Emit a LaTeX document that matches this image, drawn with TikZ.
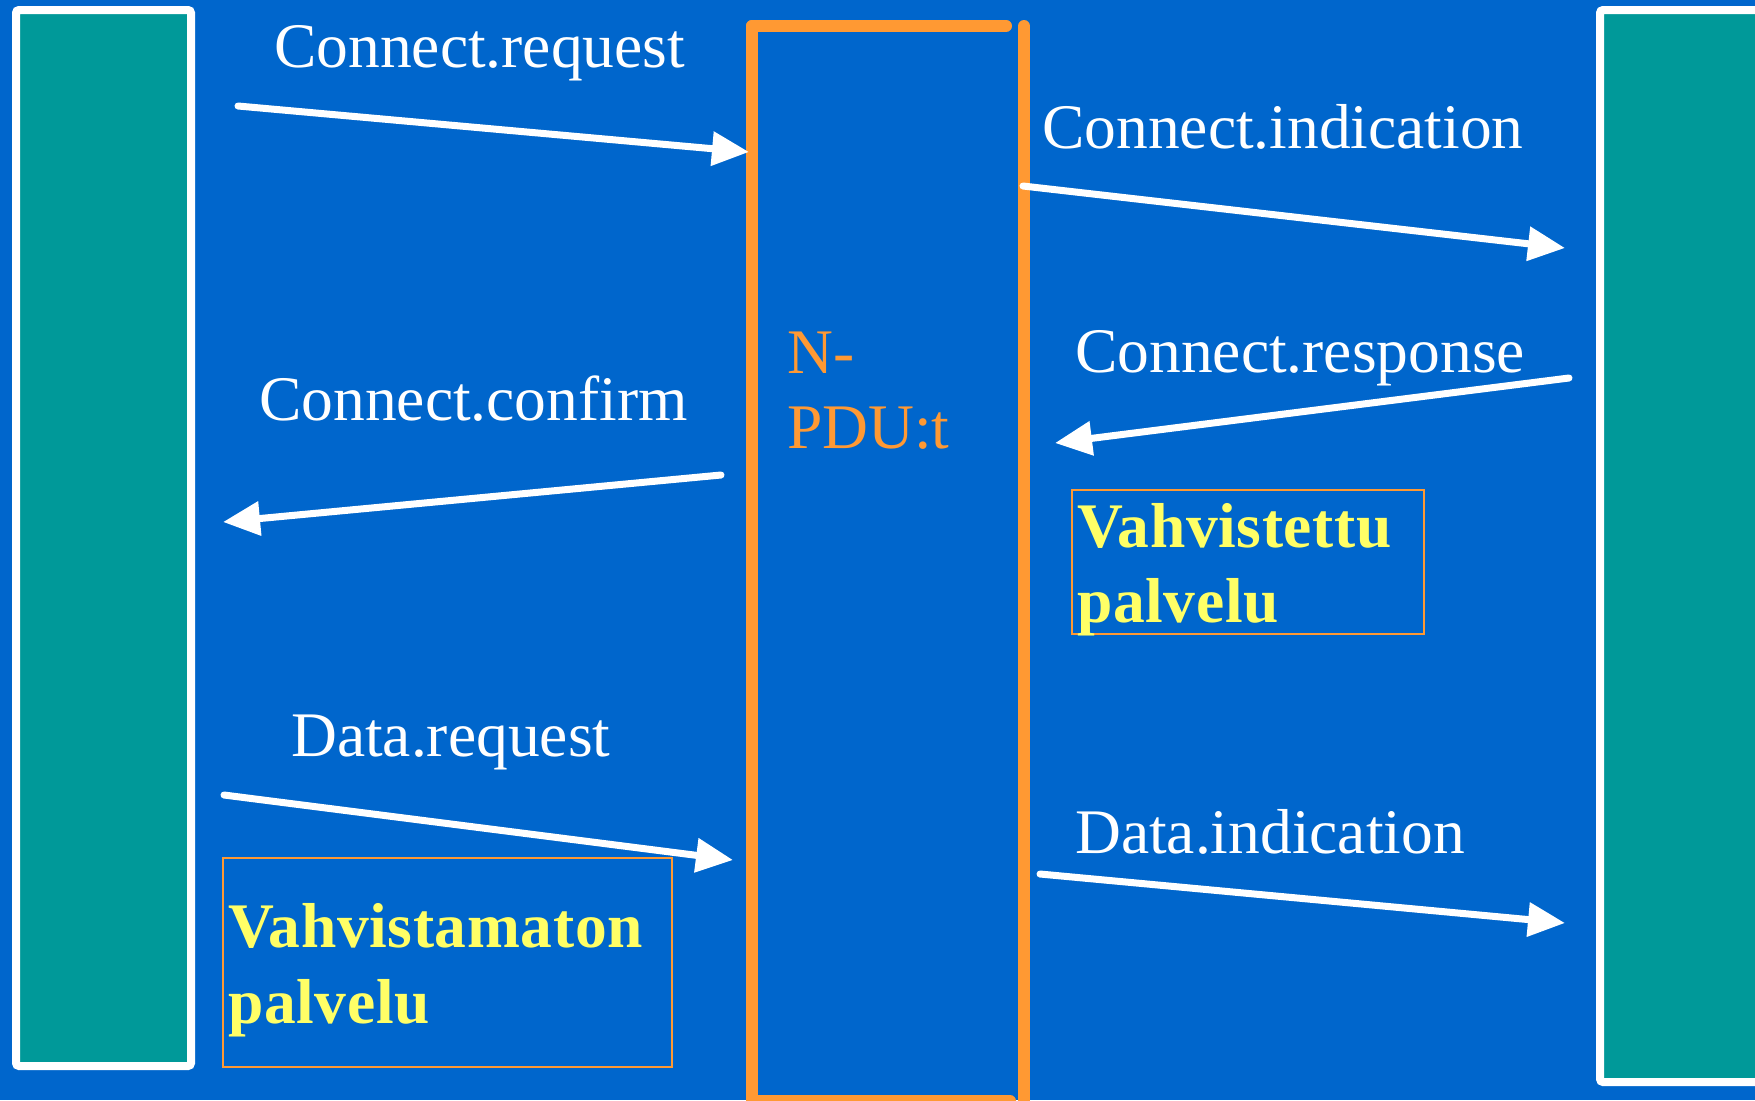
\documentclass[tikz,border=0pt]{standalone}
\usepackage{fontspec}
\setmainfont{Liberation Serif}
\usetikzlibrary{arrows.meta}
\definecolor{bg}{RGB}{0,102,204}
\definecolor{teal2}{RGB}{0,153,153}
\definecolor{orng}{RGB}{255,153,51}
\definecolor{ylw}{RGB}{255,255,102}
\begin{document}
\begin{tikzpicture}[x=1pt,y=-1pt,
 lbl/.style={anchor=base west,inner sep=0pt,text=white,font=\fontsize{63.5}{75}\selectfont},
 pdulbl/.style={lbl,text=orng},
 notelbl/.style={lbl,text=ylw,font=\fontsize{63.5}{75}\selectfont\bfseries\addfontfeature{LetterSpace=1}},
 notebox/.style={draw=orng,line width=2pt,inner sep=0pt,outer sep=0pt,anchor=north west},
 entity/.style={draw=white,fill=teal2,line width=8pt,rounded corners=3pt,inner sep=0pt,outer sep=0pt,anchor=north west},
 msg/.style={draw=white,line width=7pt,line cap=round,-{Triangle[length=37pt,width=33pt]}},
 pdubar/.style={draw=orng,line width=12pt,line cap=round}]
\useasboundingbox (0,0) rectangle (1755,1100);
\clip (0,0) rectangle (1755,1100);
\fill[bg] (0,0) rectangle (1755,1100);
% entities
\node[entity,minimum width=175pt,minimum height=1056pt] (left) at (16,10) {};
\node[entity,minimum width=250pt,minimum height=1072pt] (right) at (1600,10) {};
% N-PDU bars
\draw[pdubar] (752,26) -- (752,1115);
\draw[pdubar] (752,26) -- (1006,26);
\draw[pdubar] (1024,26) -- (1024,1115);
\draw[pdubar] (752,1101) -- (1010,1101);
\node[pdulbl] (n1) at (787,373) {N-};
\node[pdulbl] (n2) at (787,448) {PDU:t};
% labels
\node[lbl] (creq) at (274,67) {Connect.request};
\node[lbl] (cind) at (1042,148) {Connect.indication};
\node[lbl] (cres) at (1075,372) {Connect.response};
\node[lbl] (ccon) at (259,420) {Connect.confirm};
\node[lbl] (dreq) at (291,756) {Data.request};
\node[lbl] (dind) at (1075,853) {Data.indication};
% arrow end points
\coordinate (a1s) at (238,106); \coordinate (a1e) at (749,152);
\coordinate (a2s) at (1023,186); \coordinate (a2e) at (1565,248);
\coordinate (a3s) at (1569,378); \coordinate (a3e) at (1055,443);
\coordinate (a4s) at (721,475); \coordinate (a4e) at (223,522);
\coordinate (a5s) at (224,795); \coordinate (a5e) at (733,860);
\coordinate (a6s) at (1040,874); \coordinate (a6e) at (1565,923);
\draw[msg] (a1s) -- (a1e);
\draw[msg] (a2s) -- (a2e);
\draw[msg] (a3s) -- (a3e);
\draw[msg] (a4s) -- (a4e);
\draw[msg] (a5s) -- (a5e);
\draw[msg] (a6s) -- (a6e);
% notes
\node[notebox,minimum width=352pt,minimum height=144pt] (vbox) at (1072,490) {};
\node[notelbl] (v1) at (1077,547) {Vahvistettu};
\node[notelbl] (v2) at (1077,622) {palvelu};
\node[notebox,minimum width=449pt,minimum height=209pt] (ubox) at (223,858) {};
\node[notelbl] (u1) at (228,947) {Vahvistamaton};
\node[notelbl] (u2) at (228,1023) {palvelu};
\end{tikzpicture}
\end{document}
